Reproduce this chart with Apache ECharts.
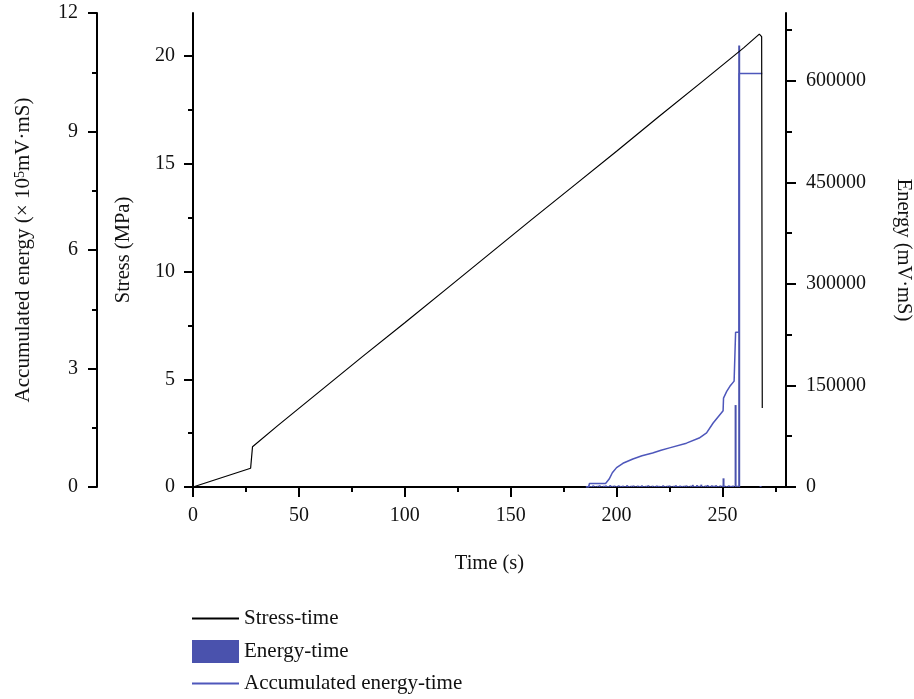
<!DOCTYPE html>
<html><head><meta charset="utf-8">
<script src="https://cdn.jsdelivr.net/npm/echarts@6/dist/echarts.min.js"></script>
<style>html,body{margin:0;padding:0;background:#fff}#c{width:914px;height:699px}</style>
</head><body><div id="c"></div>
<script>
// ---- data ----
const stressTime = [0, 27.2, 28.1, 40, 60, 80, 100, 120, 140, 160, 180, 200, 220, 240, 260, 267.4, 268.5, 268.8];
const stressVal  = [0, 0.87, 1.87, 2.85, 4.45, 6.05, 7.62, 9.22, 10.82, 12.42, 14.0, 15.58, 17.2, 18.78, 20.38, 21.02, 20.9, 3.67];

const accTime = [185.5, 186.8, 187.2, 194.8, 196.5, 198, 200, 203, 207.7, 212, 217, 221, 225, 233, 239, 242.5, 245.6, 248, 250.3, 250.5, 252, 253.5, 255.5, 256.2, 256.2, 257.9, 257.9, 268.8];
const accVal  = [0, 0, 0.09, 0.09, 0.2, 0.36, 0.49, 0.6, 0.71, 0.79, 0.86, 0.93, 0.99, 1.11, 1.24, 1.37, 1.62, 1.78, 1.93, 2.25, 2.42, 2.55, 2.68, 2.71, 3.92, 3.92, 10.47, 10.47];

const barTime = [186,187,188,189,190,191,192,193,194,195,196,197,198,199,200,201,202,203,204,205,206,207,208,209,210,211,212,213,214,215,216,217,218,219,220,221,222,223,224,225,226,227,228,229,230,231,232,233,234,235,236,237,238,239,240,241,242,243,244,245,246,247,248,249,250,250.5,251,252,253,254,255,256.2,257,257.9,268];
const barEnergy = [900,2100,1500,2400,1200,1800,2600,1100,1900,2300,1400,2800,1700,2200,1300,2500,1600,2000,1200,2700,1500,1900,2300,1000,2100,1600,2400,1300,1800,2600,1100,2000,1500,2200,1700,1200,2500,1400,1900,2300,1000,1800,2600,1300,2100,1600,1900,2400,1200,2000,3200,1500,2800,1700,3500,1400,2200,3000,1600,2500,1900,2700,1300,2300,1800,12800,2000,1500,2400,1700,2100,121000,1900,652000,1500];

const xMajor = [0, 50, 100, 150, 200, 250];
const xMinor = [25, 75, 125, 175, 225, 275];
const stressMajor = [0, 5, 10, 15, 20];
const stressMinor = [2.5, 7.5, 12.5, 17.5];
const accMajor = [0, 3, 6, 9, 12];
const accMinor = [1.5, 4.5, 7.5, 10.5];
const energyMajor = [0, 150000, 300000, 450000, 600000];
const energyMinor = [75000, 225000, 375000, 525000, 675000];

// ---- chart ----
const FONT = 'Liberation Serif';
const TXT = '#111';
const txt = {fontSize: 20, fontFamily: FONT, color: TXT};
const nameTxt = {fontSize: 20.5, fontFamily: FONT, color: TXT};
const legTxt = {fontSize: 21, fontFamily: FONT, color: TXT};
const lineS = {color: '#000', width: 2};

function majorAxis(extra) {
  return Object.assign({
    type: 'value',
    splitLine: {show: false},
    axisLine: {show: true, onZero: false, lineStyle: lineS},
  }, extra);
}
function minorAxis(extra, vals, len) {
  return Object.assign({
    type: 'value',
    splitLine: {show: false},
    axisLine: {show: false, onZero: false},
    axisLabel: {show: false},
    axisTick: {show: true, length: len, customValues: vals, lineStyle: lineS},
  }, extra);
}

const chart = echarts.init(document.getElementById('c'), null, {renderer: 'canvas'});
const zip = (a, b) => a.map((v, i) => [v, b[i]]);

chart.setOption({
  animation: false,
  backgroundColor: '#fff',
  grid: {left: 193, right: 128, top: 13, bottom: 212, containLabel: false, outerBoundsMode: 'none'},
  xAxis: [
    majorAxis({
      position: 'bottom', min: 0, max: 280,
      axisTick: {show: true, length: 10, customValues: xMajor, lineStyle: lineS},
      axisLabel: Object.assign({customValues: xMajor, margin: 19}, txt),
      name: 'Time (s)', nameLocation: 'middle', nameGap: 66, nameTextStyle: nameTxt
    }),
    minorAxis({position: 'bottom', min: 0, max: 280}, xMinor, 5)
  ],
  yAxis: [
    majorAxis({
      position: 'left', min: 0, max: 22,
      axisTick: {show: true, length: 9, customValues: stressMajor, lineStyle: lineS},
      axisLabel: Object.assign({customValues: stressMajor, margin: 18}, txt),
      name: 'Stress (MPa)', nameLocation: 'middle', nameGap: 59, nameRotate: 90, nameTextStyle: nameTxt
    }),
    majorAxis({
      position: 'left', offset: 96, min: 0, max: 12,
      axisTick: {show: true, length: 9, customValues: accMajor, lineStyle: lineS},
      axisLabel: Object.assign({customValues: accMajor, margin: 19}, txt),
      name: 'Accumulated energy (× 10{sup|5}mV·mS)', nameLocation: 'middle', nameGap: 63, nameRotate: 90,
      nameTextStyle: Object.assign({rich: {sup: {fontSize: 14, fontFamily: FONT, color: TXT, verticalAlign: 'top'}}}, {fontSize: 21, fontFamily: FONT, color: TXT})
    }),
    majorAxis({
      position: 'right', min: 0, max: 700000,
      axisTick: {show: true, length: 10, customValues: energyMajor, lineStyle: lineS},
      axisLabel: Object.assign({customValues: energyMajor, margin: 20, formatter: v => String(v)}, txt),
      name: 'Energy (mV·mS)', nameLocation: 'middle', nameGap: 107, nameRotate: -90, nameTextStyle: nameTxt
    }),
    minorAxis({position: 'left', min: 0, max: 22}, stressMinor, 5),
    minorAxis({position: 'left', offset: 96, min: 0, max: 12}, accMinor, 5),
    minorAxis({position: 'right', min: 0, max: 700000}, energyMinor, 6)
  ],
  legend: [
    {data: ['Stress-time'], left: 192, top: 608, padding: 0, itemWidth: 47, itemHeight: 2, icon: 'rect', selectedMode: false, textStyle: legTxt},
    {data: ['Energy-time'], left: 192, top: 640, padding: 0, itemWidth: 47, itemHeight: 23, icon: 'rect', selectedMode: false, textStyle: legTxt},
    {data: ['Accumulated energy-time'], left: 192, top: 673, padding: 0, itemWidth: 47, itemHeight: 2, icon: 'rect', selectedMode: false, textStyle: legTxt}
  ],
  series: [
    {
      name: 'Energy-time', type: 'bar', xAxisIndex: 0, yAxisIndex: 2,
      barWidth: 2, data: zip(barTime, barEnergy),
      itemStyle: {color: '#4a52ad'}, z: 2
    },
    {
      name: 'Accumulated energy-time', type: 'line', xAxisIndex: 0, yAxisIndex: 1,
      data: zip(accTime, accVal), symbol: 'none', showSymbol: false,
      lineStyle: {color: '#4e57bb', width: 1.5}, itemStyle: {color: '#4e57bb'}, z: 3
    },
    {
      name: 'Stress-time', type: 'line', xAxisIndex: 0, yAxisIndex: 0,
      data: zip(stressTime, stressVal), symbol: 'none', showSymbol: false,
      lineStyle: {color: '#000', width: 1.2}, itemStyle: {color: '#000'}, z: 4
    }
  ]
});
</script>
</body></html>
